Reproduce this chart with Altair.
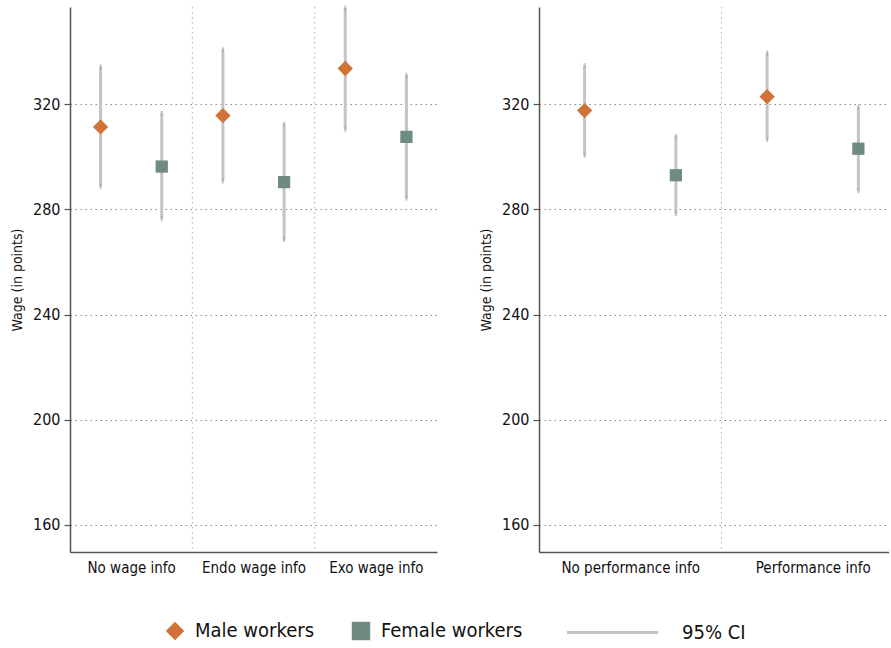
import altair as alt
import pandas as pd

# ---- data ----
left_cats = ["No wage info", "Endo wage info", "Exo wage info"]
left_male = [311.4, 315.7, 333.6]
left_male_lo = [288.7, 290.9, 310.5]
left_male_hi = [334.2, 340.7, 356.6]
left_female = [296.3, 290.4, 307.6]
left_female_lo = [276.5, 268.6, 284.3]
left_female_hi = [316.5, 312.4, 331.0]

right_cats = ["No performance info", "Performance info"]
right_male = [317.6, 322.9]
right_male_lo = [300.6, 306.6]
right_male_hi = [334.7, 339.5]
right_female = [293.0, 303.1]
right_female_lo = [278.5, 287.1]
right_female_hi = [307.8, 319.0]

groups = ["Male workers", "Female workers"]
ci_label = "95% CI"
y_ticks = [160, 200, 240, 280, 320]
y_domain = [149.7, 357.0]

# ---- styles ----
ORANGE = "#CF7338"
GREEN = "#6F8A80"
CI_GREY = "#C4C4C4"
AXIS_COL = "#555555"
FONT = "Liberation Sans Narrow, DejaVu Sans Condensed, Liberation Sans, sans-serif"
LEG_FONT_SIZE = 20


def make_panel(cats, male, mlo, mhi, female, flo, fhi, width, xmax, with_legend):
    rows = []
    for i, c in enumerate(cats):
        rows.append(dict(cat=c, group=groups[0], pos=i + 0.25, val=male[i], lo=mlo[i], hi=mhi[i], ci=ci_label))
        rows.append(dict(cat=c, group=groups[1], pos=i + 0.75, val=female[i], lo=flo[i], hi=fhi[i], ci=ci_label))
    df = pd.DataFrame(rows)
    sep = pd.DataFrame({"pos": list(range(1, len(cats)))})

    names = "[" + ",".join("'" + c + "'" for c in cats) + "]"
    xscale = alt.Scale(domain=[0, xmax], nice=False, zero=False)
    yscale = alt.Scale(domain=y_domain, nice=False, zero=False)

    x_axis = alt.Axis(
        values=[i + 0.5 for i in range(len(cats))],
        labelExpr=names + "[round(datum.value - 0.5)]",
        title=None, ticks=False, grid=False,
        domainColor=AXIS_COL, domainWidth=1.5,
        labelFont=FONT, labelFontSize=15, labelColor="#111", labelPadding=8,
    )
    y_axis = alt.Axis(
        values=y_ticks, title="Wage (in points)", grid=True,
        gridColor="#8a8a8a", gridDash=[1.5, 3.5], gridWidth=1,
        domainColor=AXIS_COL, domainWidth=1.5,
        tickColor=AXIS_COL, tickSize=6, tickWidth=1.2,
        labelFont=FONT, labelFontSize=16, labelColor="#111", labelPadding=4,
        titleFont=FONT, titleFontSize=14, titleFontWeight="normal", titleColor="#111", titlePadding=8,
    )

    X = lambda f: alt.X(f, scale=xscale, axis=x_axis)
    Y = lambda f: alt.Y(f, scale=yscale, axis=y_axis)

    base = alt.Chart(df)

    separators = alt.Chart(sep).mark_rule(color="#b0b0b0", strokeDash=[1.5, 3.5], strokeWidth=1).encode(
        x=X("pos:Q")
    )

    if with_legend:
        dash_enc = alt.StrokeDash(
            "ci:N",
            scale=alt.Scale(domain=[ci_label], range=[[1, 0]]),
            legend=alt.Legend(
                title=None, orient="none", legendX=495, legendY=578,
                symbolType="stroke", symbolSize=8300, symbolStrokeWidth=3,
                symbolStrokeColor=CI_GREY, symbolDash=[1, 0],
                labelFont=FONT, labelFontSize=LEG_FONT_SIZE, labelColor="#111", labelOffset=22,
            ),
        )
    else:
        dash_enc = alt.StrokeDash("ci:N", scale=alt.Scale(domain=[ci_label], range=[[1, 0]]), legend=None)

    rules = base.mark_rule(color=CI_GREY, strokeWidth=3).encode(
        x=X("pos:Q"), y=Y("lo:Q"), y2="hi:Q", strokeDash=dash_enc,
    )
    caps_lo = base.mark_tick(color="#aaaaaa", size=5, thickness=2).encode(x=X("pos:Q"), y=Y("lo:Q"))
    caps_hi = base.mark_tick(color="#aaaaaa", size=5, thickness=2).encode(x=X("pos:Q"), y=Y("hi:Q"))

    if with_legend:
        leg = alt.Legend(
            title=None, orient="none", legendX=95, legendY=614, direction="horizontal",
            symbolSize=340, columnPadding=36, labelOffset=10,
            labelFont=FONT, labelFontSize=LEG_FONT_SIZE, labelColor="#111",
        )
    else:
        leg = None
    color_enc = alt.Color("group:N", scale=alt.Scale(domain=groups, range=[ORANGE, GREEN]), legend=leg)
    shape_enc = alt.Shape("group:N", scale=alt.Scale(domain=groups, range=["diamond", "square"]), legend=leg)

    diamonds = base.transform_filter(alt.datum.group == groups[0]).mark_point(
        filled=True, opacity=1, size=235, shape="diamond").encode(
        x=X("pos:Q"), y=Y("val:Q"), color=color_enc, shape=shape_enc,
    )
    squares = base.transform_filter(alt.datum.group == groups[1]).mark_point(
        filled=True, opacity=1, size=150, shape="square").encode(
        x=X("pos:Q"), y=Y("val:Q"), color=color_enc, shape=shape_enc,
    )

    return alt.layer(separators, rules, caps_lo, caps_hi, diamonds, squares).properties(
        width=width, height=545
    )


left = make_panel(left_cats, left_male, left_male_lo, left_male_hi,
                  left_female, left_female_lo, left_female_hi, 367, 3, True)
right = make_panel(right_cats, right_male, right_male_lo, right_male_hi,
                   right_female, right_female_lo, right_female_hi, 350, 2 * 350 / 365, False)

chart = alt.hconcat(left, right, spacing=102, bounds="flush").resolve_scale(
    color="independent", shape="independent", strokeDash="independent"
).resolve_legend(
    color="independent", shape="independent", strokeDash="independent"
).properties(
    padding={"left": 10, "top": 5, "right": 0, "bottom": 0}
).configure(background="white").configure_view(stroke=None)

chart.save("out.html", embed_options={"renderer": "svg", "actions": False})
